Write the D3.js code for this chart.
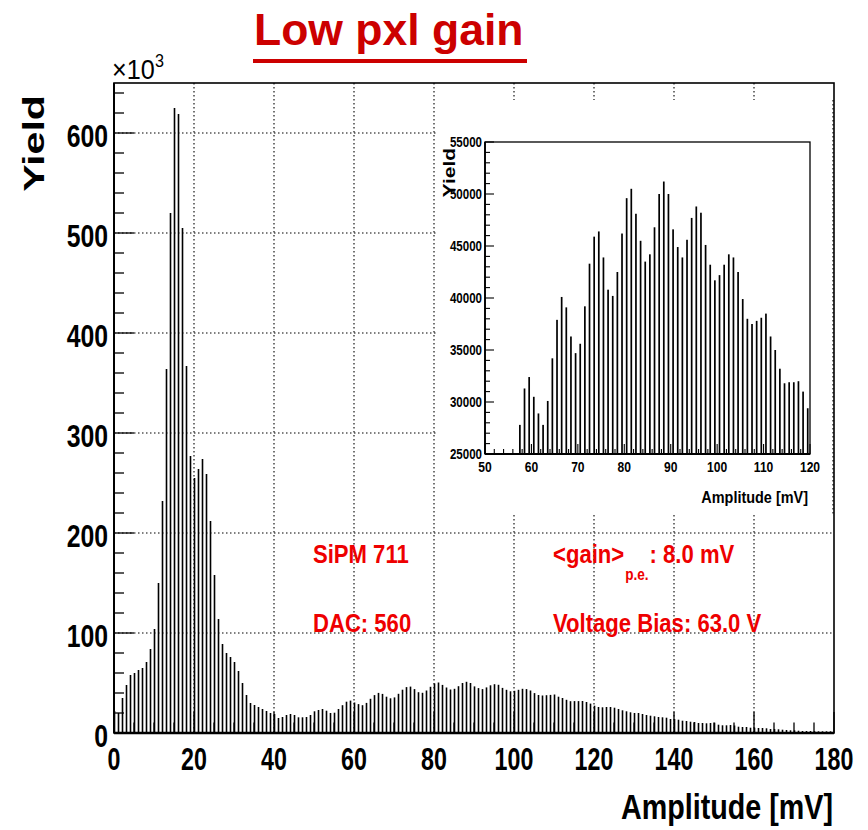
<!DOCTYPE html>
<html><head><meta charset="utf-8">
<script src="https://cdn.jsdelivr.net/npm/d3@7"></script>
<style>body{margin:0;background:#fff}svg{display:block}</style>
</head><body>
<svg id="c" width="868" height="830"></svg>
<script>
// ---------- data ----------
const binStart = 0;            // first bin low edge [mV], 1 mV bins
const yieldK = [ // yield in units of 10^3, bins 0..179 mV
 22,20,35,48,58,60,63,65,71,84,
 104,150,232,364,520,625,619,505,367,277,
 255,264,274,259,212,158,114,89,80,76,
 71,62,50,38,30,28,26,24,22,20,
 19,15,16,18,19,18,15.7,15.7,16,18,
 21.7,23,24,22.3,20,20.3,24,27.8,31.3,32.4,
 30.5,28.9,27.8,30.1,34.2,37.9,40.1,39.1,36.3,34.7,
 35.6,39.2,43.3,45.9,46.4,43.9,40.8,40.2,42.5,46.2,
 49.6,50.5,48.1,45.5,43.5,44.2,46.8,50.0,51.2,50.0,
 46.6,44.9,43.9,45.6,47.7,48.8,48.2,45.1,43.2,41.7,
 42.2,43.2,44.2,43.9,42.5,39.9,38.0,37.5,37.8,38.1,
 38.5,36.3,35.0,33.2,31.8,31.9,31.9,32.0,31.0,29.4,
 27.3,26,25.7,26,26,25.3,24,22.7,21.7,20.7,
 20,20,19,18,17.3,16.7,16,15.7,15.3,14,
 14,13.3,12.3,12,11.3,11,10,10,9.7,10,
 10.3,8.3,7.7,7.7,8,7.5,6.3,6,6,5.3,
 5.3,5,5,4.7,4,4,3.7,3.3,3,2.7,
 2.7,2.3,2,2,2,1.8,1.7,1.7,1.7,1.7
];
const xTickLabels = [0,20,40,60,80,100,120,140,160,180];
const yTickLabels = [0,100,200,300,400,500,600];
const insetXTickLabels = [50,60,70,80,90,100,110,120];
const insetYTickLabels = [25000,30000,35000,40000,45000,50000,55000];
const titleText = "Low pxl gain";
const xTitle = "Amplitude [mV]";
const yTitle = "Yield";

// ---------- setup ----------
const svg = d3.select("#c");
svg.append("rect").attr("width",868).attr("height",830).attr("fill","#fff");
const FONT = "'Liberation Sans', Arial, Helvetica, sans-serif";

function txt(parent, x, y, s, o) {
  o = o || {};
  const g = parent.append("g")
    .attr("transform", `translate(${x},${y}) rotate(${o.rot||0}) scale(${o.sx||1},${o.sy||1})`);
  const t = g.append("text").attr("x",0).attr("y",0)
    .attr("font-family", FONT)
    .attr("font-size", o.size||20)
    .attr("font-weight", o.weight||"bold")
    .attr("fill", o.fill||"#000")
    .attr("text-anchor", o.anchor||"start")
    .text(s);
  return t;
}

const x = d3.scaleLinear().domain([0,180]).range([114,834]);
const y = d3.scaleLinear().domain([0,650]).range([733,83]);

const gridStyle = sel => sel.attr("stroke","#000").attr("stroke-width",1.1).attr("stroke-dasharray","1.5,2.5");

// grid
const grid = svg.append("g");
xTickLabels.filter(v => v>0 && v<180).forEach(v => {
  grid.append("line").attr("x1",x(v)).attr("x2",x(v)).attr("y1",y(650)).attr("y2",y(0)).call(gridStyle);
});
yTickLabels.filter(v => v>0).forEach(v => {
  grid.append("line").attr("x1",x(0)).attr("x2",x(180)).attr("y1",y(v)).attr("y2",y(v)).call(gridStyle);
});

// histogram bars
svg.append("g").selectAll("rect").data(yieldK).join("rect")
  .attr("x", (d,i) => x(binStart+i) - 0.3)
  .attr("width", 1.6)
  .attr("y", d => y(d))
  .attr("height", d => y(0) - y(d))
  .attr("fill","#000");

// ticks
const tk = svg.append("g").attr("stroke","#000").attr("stroke-width",1.3);
d3.range(0,181,5).forEach(v => {
  const major = v % 20 === 0;
  tk.append("line").attr("x1",x(v)).attr("x2",x(v)).attr("y1",y(0)).attr("y2",y(0)-(major?21:10.5));
});
d3.range(0,651,20).forEach(v => {
  const major = v % 100 === 0;
  tk.append("line").attr("x1",x(0)).attr("x2",x(0)+(major?20:10)).attr("y1",y(v)).attr("y2",y(v));
});

// frame
svg.append("rect").attr("x",x(0)).attr("y",y(650)).attr("width",x(180)-x(0)).attr("height",y(0)-y(650))
  .attr("fill","none").attr("stroke","#000").attr("stroke-width",1.6);
svg.append("line").attr("x1",x(0)).attr("x2",x(180)).attr("y1",y(0)).attr("y2",y(0)).attr("stroke","#000").attr("stroke-width",2.4);
svg.append("line").attr("x1",x(0)).attr("x2",x(0)).attr("y1",y(0)).attr("y2",y(650)).attr("stroke","#000").attr("stroke-width",2);

// tick labels
xTickLabels.forEach(v => txt(svg, x(v), 770, String(v), {size:31, sx:0.75, anchor:"middle"}));
yTickLabels.forEach(v => txt(svg, 108, y(v)+14, String(v), {size:31, sx:0.8, anchor:"end"}));

// exponent
txt(svg, 112, 79, "\u00d710", {size:28, weight:"normal", sx:0.9});
txt(svg, 155, 67, "3", {size:18, weight:"normal", sx:0.9});

// axis titles
txt(svg, 833, 819, xTitle, {size:35, sx:0.82, anchor:"end"});
txt(svg, 44, 95, yTitle, {size:29, sx:1.42, anchor:"end", rot:-90});

// title
txt(svg, 254, 45, titleText, {size:44.5, fill:"#cc0000"});
svg.append("rect").attr("x",253).attr("y",59).attr("width",274).attr("height",4).attr("fill","#cc0000");

// annotations
const red = "#ee0000";
txt(svg, 313, 563, "SiPM 711", {size:26, sx:0.85, fill:red});
txt(svg, 313, 632, "DAC: 560", {size:26, sx:0.85, fill:red});
txt(svg, 553, 632, "Voltage Bias: 63.0 V", {size:26, sx:0.85, fill:red});
const g1 = txt(svg, 553, 563, "<gain>", {size:26, sx:0.85, fill:red});
const w1 = g1.node().getComputedTextLength()*0.85;
const g2 = txt(svg, 553+w1+1, 580, "p.e.", {size:16, sx:0.85, fill:red});
const w2 = g2.node().getComputedTextLength()*0.85;
txt(svg, 553+w1+1+w2+1, 563, ": 8.0 mV", {size:26, sx:0.85, fill:red});

// ---------- inset ----------
svg.append("rect").attr("x",437).attr("y",100).attr("width",396).attr("height",415).attr("fill","#fff");
svg.append("line").attr("x1",833).attr("x2",833).attr("y1",100).attr("y2",515).call(gridStyle);

const xi = d3.scaleLinear().domain([50,120]).range([485,810]);
const yi = d3.scaleLinear().domain([25000,55000]).range([454,142]);
const insetBins = yieldK.map((v,i) => ({c: binStart+i+0.5, v: v*1000}))
  .filter(d => d.c > 50 && d.c < 120 && d.v > 25000);
svg.append("g").selectAll("rect").data(insetBins).join("rect")
  .attr("x", d => xi(d.c) - 0.8)
  .attr("width", 1.7)
  .attr("y", d => yi(d.v))
  .attr("height", d => yi(25000) - yi(d.v))
  .attr("fill","#000");

const itk = svg.append("g").attr("stroke","#000").attr("stroke-width",1.1);
d3.range(50,121,2).forEach(v => {
  const major = v % 10 === 0;
  itk.append("line").attr("x1",xi(v)).attr("x2",xi(v)).attr("y1",yi(25000)).attr("y2",yi(25000)-(major?10:5));
});
d3.range(25000,55001,1000).forEach(v => {
  const major = v % 5000 === 0;
  itk.append("line").attr("x1",xi(50)).attr("x2",xi(50)+(major?9:5)).attr("y1",yi(v)).attr("y2",yi(v));
});
svg.append("rect").attr("x",xi(50)).attr("y",yi(55000)).attr("width",xi(120)-xi(50)).attr("height",yi(25000)-yi(55000))
  .attr("fill","none").attr("stroke","#000").attr("stroke-width",1.3);
svg.append("line").attr("x1",xi(50)).attr("x2",xi(120)).attr("y1",yi(25000)).attr("y2",yi(25000)).attr("stroke","#000").attr("stroke-width",2);
svg.append("line").attr("x1",xi(50)).attr("x2",xi(50)).attr("y1",yi(25000)).attr("y2",yi(55000)).attr("stroke","#000").attr("stroke-width",1.8);

insetXTickLabels.forEach(v => txt(svg, xi(v), 472, String(v), {size:15.5, sx:0.78, anchor:"middle"}));
insetYTickLabels.forEach(v => txt(svg, 482, yi(v)+5, String(v), {size:15, sx:0.77, anchor:"end"}));
txt(svg, 808, 503, xTitle, {size:17, sx:0.85, anchor:"end"});
txt(svg, 455, 148, yTitle, {size:17, sx:1.23, anchor:"end", rot:-90});
</script>
</body></html>
